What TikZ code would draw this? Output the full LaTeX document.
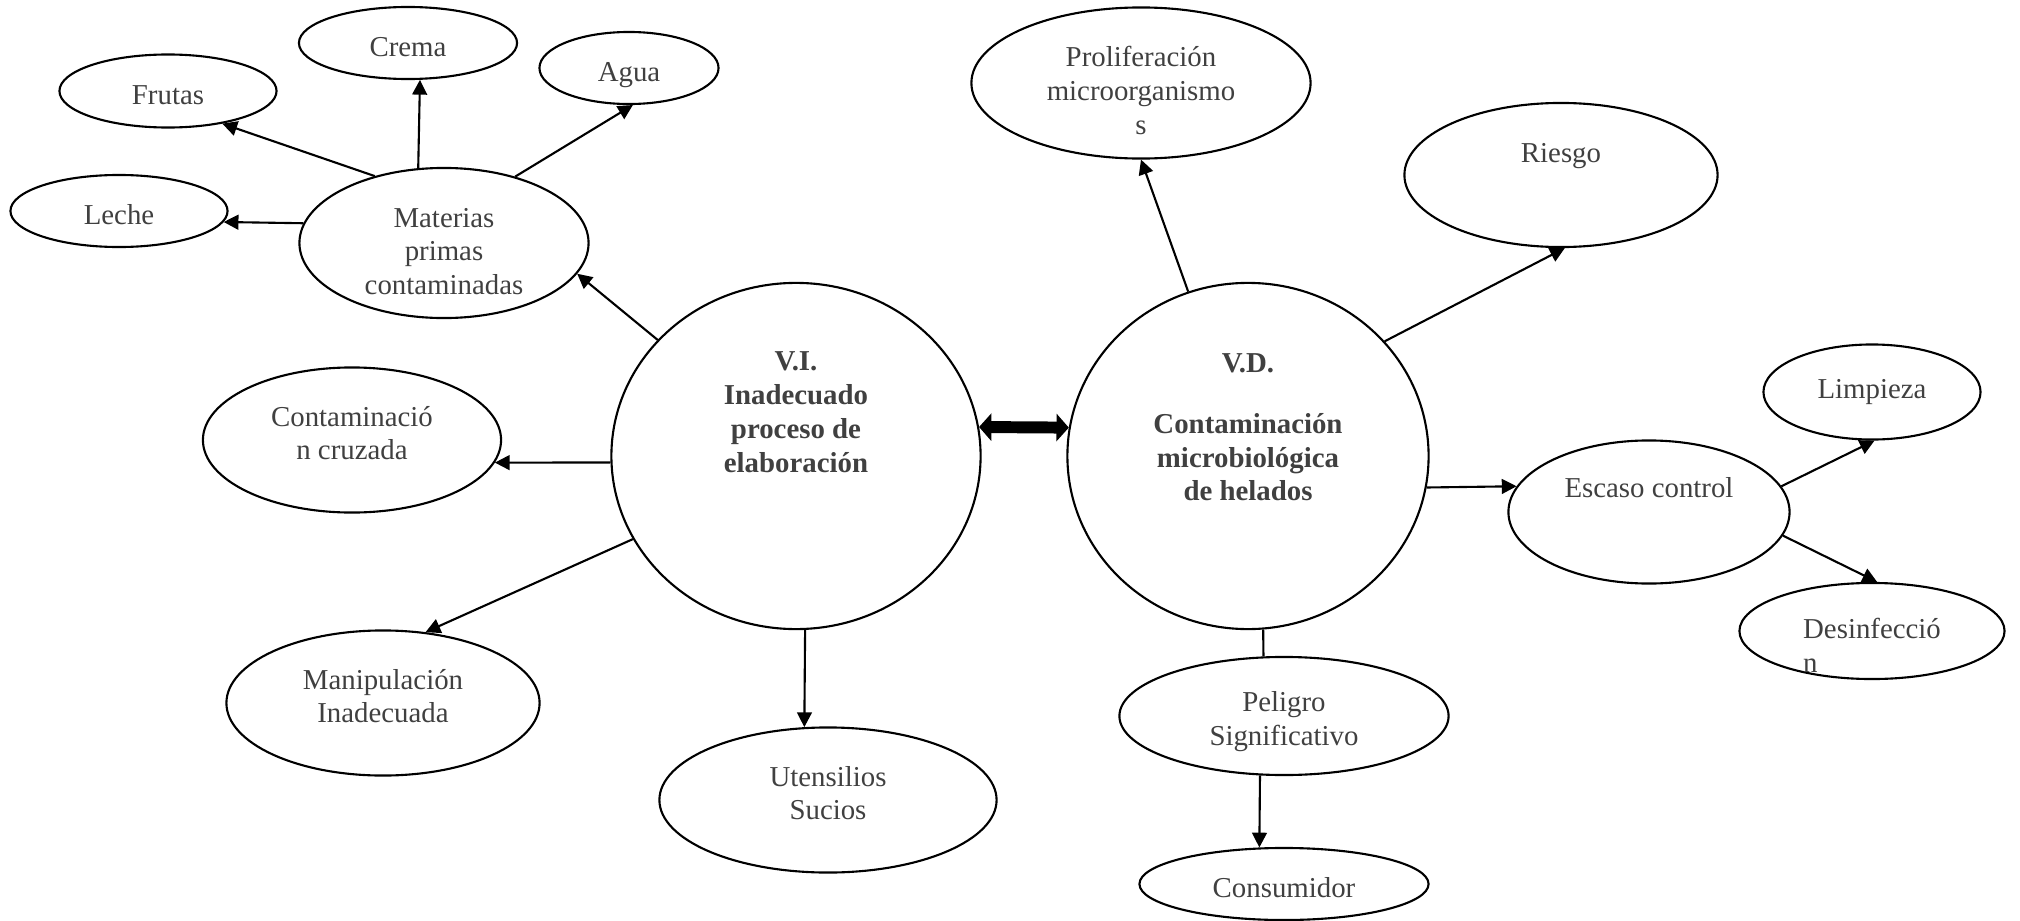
\documentclass[tikz,border=0pt]{standalone}
\usepackage{fontspec}
\setmainfont{Liberation Serif}
\usetikzlibrary{shapes,arrows.meta}
\definecolor{labelgray}{RGB}{64,64,64}

\begin{document}
\begin{tikzpicture}[
    x=0.01cm, y=-0.01cm,
    bubble/.style={ellipse, draw, line width=0.6pt, inner sep=0pt, align=center, text=labelgray, font=\fontsize{8.2}{9.6}\selectfont},
    word/.style={bubble, text height=7.4pt, text depth=0pt},
    core/.style={bubble, font=\fontsize{8.2}{9.6}\selectfont\bfseries},
    link/.style={line width=0.6pt, -{Triangle[length=4.2pt, width=4.2pt]}},
    bond/.style={line width=3.4pt, {Triangle[length=3.5pt, width=7.7pt]}-{Triangle[length=3.5pt, width=7.7pt]}}
]
\useasboundingbox (0,0) rectangle (2020,921);

% Variables
\node[core, minimum width=3.69cm, minimum height=3.46cm] (vi) at (796,456) {V.I.\\Inadecuado\\proceso de\\elaboración\\[15.4pt]~};
\node[core, minimum width=3.61cm, minimum height=3.46cm] (vd) at (1248,456) {V.D.\\[7.8pt]Contaminación\\microbiológica\\de helados\\[6.9pt]~};

% Materias primas
\node[bubble, minimum width=2.89cm, minimum height=1.50cm] (materias) at (444,243) {Materias\\primas\\contaminadas\\[-14.3pt]~};
\node[word, minimum width=2.17cm, minimum height=0.72cm] (leche) at (119,211) {Leche};
\node[word, minimum width=2.17cm, minimum height=0.73cm] (frutas) at (168,91) {Frutas};
\node[word, minimum width=2.18cm, minimum height=0.72cm] (crema) at (408,43) {Crema};
\node[word, minimum width=1.79cm, minimum height=0.72cm] (agua) at (629,68) {Agua};

% Left side
\node[bubble, minimum width=2.98cm, minimum height=1.45cm] (contam) at (352,440) {Contaminació\\n cruzada\\[-5.6pt]~};
\node[bubble, minimum width=3.13cm, minimum height=1.45cm] (manip) at (383,703) {Manipulación\\Inadecuada\\[-5.6pt]~};
\node[bubble, minimum width=3.37cm, minimum height=1.45cm] (utens) at (828,800) {Utensilios\\Sucios\\[-5.6pt]~};

% Right side
\node[bubble, minimum width=3.39cm, minimum height=1.51cm] (prolif) at (1141,83) {Proliferación\\microorganismo\\s\\[-13.8pt]~};
\node[bubble, minimum width=3.13cm, minimum height=1.44cm] (riesgo) at (1561,175) {Riesgo\\[2.9pt]~};
\node[bubble, minimum width=2.81cm, minimum height=1.43cm] (escaso) at (1649,512) {Escaso control\\[4.6pt]~};
\node[bubble, minimum width=2.17cm, minimum height=0.95cm] (limpieza) at (1872,392) {Limpieza};
\node[bubble, minimum width=2.65cm, minimum height=0.96cm, align=left] (desinf) at (1872,631) {Desinfecció\\n\\[-17.6pt]~};
\node[bubble, minimum width=3.29cm, minimum height=1.18cm] (peligro) at (1284,716) {Peligro\\Significativo\\[-10.8pt]~};
\node[word, minimum width=2.89cm, minimum height=0.72cm] (consum) at (1284,884) {Consumidor};

% Materias primas branches
\draw[link] (materias.172) -- (leche.354);
\draw[link] (materias.136) -- (frutas.329);
\draw[link] (materias.109) -- (crema.288);
\draw[link] (materias.43) -- (agua.276);

% V.I. branches
\draw[link] (vi.140) -- (materias.347);
\draw[link] (vi.182) -- (contam.351);
\draw[link] (vi.207) -- (manip.59);
\draw[link] (vi.273) -- (utens.108);

% V.I. <-> V.D.
\draw[bond] (vi.9) -- (vd.171);

% V.D. branches
\draw[link] (vd.110) -- (prolif.270);
\draw[link] (vd.40) -- (riesgo.273);
\draw[link] (vd.350) -- (escaso.169);
\draw[line width=0.6pt] (vd.275) -- (peligro.109);
\draw[link] (peligro.248) -- (consum.124);

% Escaso control
\draw[link] (escaso.11) -- (limpieza.273);
\draw[link] (escaso.350) -- (desinf.84);

\end{tikzpicture}
\end{document}
